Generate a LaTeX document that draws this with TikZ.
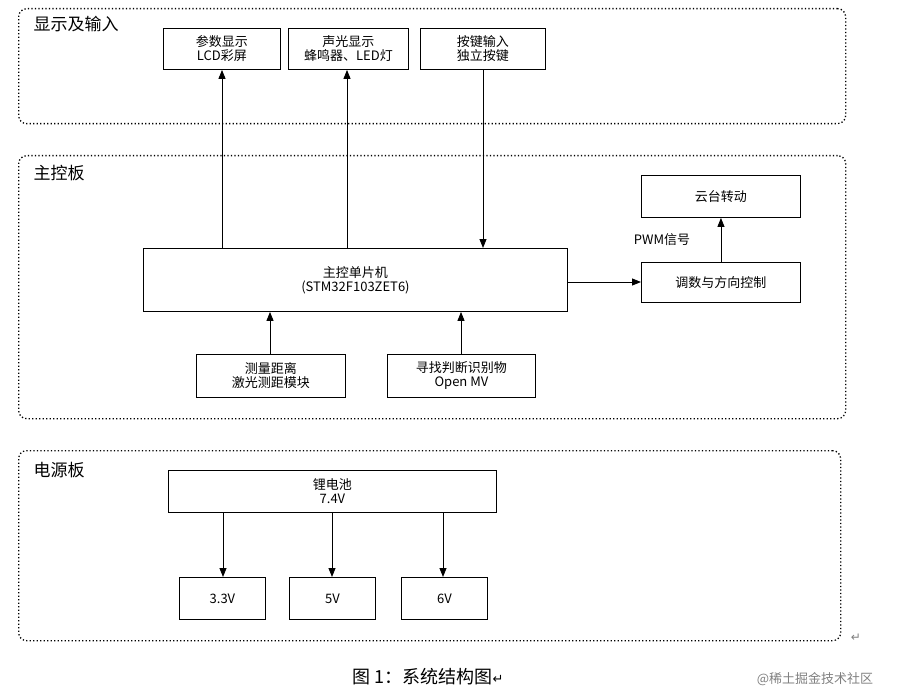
\documentclass[tikz,border=0pt]{standalone}
\usepackage{fontspec}
\setmainfont{Noto Sans CJK SC}
\newfontfamily\dv{DejaVu Sans}
\usetikzlibrary{arrows.meta}
\begin{document}
\begin{tikzpicture}[x=1pt,y=-1pt,
  grp/.style={draw,line width=1.3pt,dash pattern=on 1.3pt off 2.2pt,rounded corners=8pt},
  box/.style={draw,line width=0.9pt,align=center,font=\fontsize{13}{14}\selectfont},
  lab/.style={anchor=west,font=\fontsize{17}{19}\selectfont},
  arr/.style={-{Triangle[length=9pt,width=7pt]},line width=0.9pt}]
\useasboundingbox (0,0) rectangle (901,695);
\node[grp,minimum width=827,minimum height=115,anchor=north west] (g1) at (18,8) {};
\node[lab] (l1) at (30,24) {显示及输入};
\node[grp,minimum width=827,minimum height=263,anchor=north west] (g2) at (18,155) {};
\node[lab] (l2) at (30,173) {主控板};
\node[grp,minimum width=822,minimum height=190,anchor=north west] (g3) at (18,450) {};
\node[lab] (l3) at (30,470) {电源板};
\newcommand{\bx}[6]{\node[box,minimum width=#4-#2,minimum height=#5-#3,anchor=north west,inner sep=0pt] (#1) at (#2,#3) {#6};}
\bx{lcd}{163}{28}{280}{69}{参数显示\\LCD彩屏}
\bx{snd}{288}{28}{408}{69}{声光显示\\蜂鸣器、LED灯}
\bx{key}{420}{28}{545}{69}{按键输入\\独立按键}
\bx{mcu}{143}{248}{567}{311}{主控单片机\\(STM32F103ZET6)}
\bx{yt}{641}{175}{800}{217}{云台转动}
\bx{ctl}{641}{262}{800}{302}{调数与方向控制}
\bx{dis}{196}{354}{345}{397}{测量距离\\激光测距模块}
\bx{mv}{387}{354}{535}{397}{寻找判断识别物\\Open MV}
\bx{bat}{168}{470}{496}{512}{锂电池\\7.4V}
\bx{v3}{179}{577}{265}{619}{3.3V}
\bx{v5}{289}{577}{375}{619}{5V}
\bx{v6}{401}{577}{487}{619}{6V}
\node[font=\fontsize{13}{14}\selectfont] (pwm) at (662,240) {PWM信号};
\draw[arr] (222,248) -- (lcd.south -| 222,0);
\draw[arr] (347,248) -- (snd.south -| 347,0);
\draw[arr] (key.south -| 483,0) -- (mcu.north -| 483,0);
\draw[arr] (mcu.east |- 0,282) -- (ctl.west |- 0,282);
\draw[arr] (ctl.north) -- (yt.south);
\draw[arr] (dis.north -| 270,0) -- (mcu.south -| 270,0);
\draw[arr] (mv.north -| 461,0) -- (mcu.south -| 461,0);
\draw[arr] (bat.south -| 223,0) -- (v3.north -| 223,0);
\draw[arr] (bat.south -| 332,0) -- (v5.north -| 332,0);
\draw[arr] (bat.south -| 443,0) -- (v6.north -| 443,0);
\node[font=\fontsize{18}{20}\selectfont] (cap) at (428,677) {图 1：系统结构图{\dv\fontsize{13}{14}\selectfont ↵}};
\node[font=\fontsize{13}{15}\selectfont,text=gray] (wm) at (815,679) {@稀土掘金技术社区};
\node[font=\dv\fontsize{12}{13}\selectfont,text=gray] (rt) at (856,638) {↵};
\end{tikzpicture}
\end{document}
